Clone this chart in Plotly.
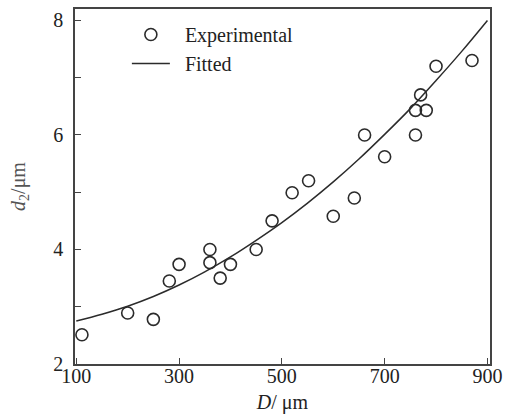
import plotly.graph_objects as go

exp_D = [111, 200, 250, 281, 300, 360, 360, 380, 400, 450, 481, 520, 552, 600, 641, 661, 700, 760, 760, 770, 781, 800, 870]
exp_d = [2.51, 2.89, 2.78, 3.45, 3.74, 4.00, 3.77, 3.50, 3.74, 4.00, 4.50, 4.99, 5.20, 4.58, 4.90, 6.00, 5.62, 6.00, 6.43, 6.70, 6.43, 7.20, 7.30]

# Fitted curve
fit_D = [100, 150, 200, 250, 300, 350, 400, 450, 500, 550, 600, 650, 700, 750, 800, 850, 900]
fit_d = [2.75, 2.87, 3.01, 3.18, 3.38, 3.61, 3.87, 4.16, 4.47, 4.81, 5.18, 5.58, 6.01, 6.46, 6.95, 7.46, 8.00]

x_ticks = [100, 300, 500, 700, 900]
y_ticks = [2, 4, 6, 8]

FONT = "Liberation Serif"
INK = "#2b2b2b"
PAD = "\u00a0\u00a0"

fig = go.Figure()
fig.add_trace(go.Scatter(
    x=exp_D, y=exp_d, mode="markers", name=PAD + "Experimental",
    marker=dict(symbol="circle-open", size=12, color=INK, line=dict(width=1.6, color=INK)),
))
fig.add_trace(go.Scatter(
    x=fit_D, y=fit_d, mode="lines", name=PAD + "Fitted",
    line=dict(color=INK, width=1.5, shape="spline"),
))

axis_common = dict(
    showline=True, linecolor="#444", linewidth=1.5, mirror=True,
    ticks="inside", ticklen=6, tickwidth=1.2, tickcolor="#444",
    showgrid=False, zeroline=False, automargin=False,
    tickfont=dict(family=FONT, size=20, color="#222"),
)

fig.update_layout(
    width=505, height=414,
    margin=dict(l=75, r=15, t=9, b=50),
    paper_bgcolor="white", plot_bgcolor="white",
    font=dict(family=FONT, size=20, color="#222"),
    showlegend=True,
    legend=dict(x=0.125, y=0.983, xanchor="left", yanchor="top",
                bgcolor="rgba(0,0,0,0)", font=dict(family=FONT, size=20, color="#222"),
                itemwidth=38, tracegroupgap=0),
    xaxis=dict(range=[97.5, 905], tickvals=x_ticks, ticktext=[str(v) for v in x_ticks],
               ticklabelstandoff=-7,
               title=dict(text="<i>D</i>/ μm", font=dict(family=FONT, size=20, color="#222"), standoff=10),
               **axis_common),
    yaxis=dict(range=[2, 8.2], tickvals=y_ticks, ticktext=[str(v) for v in y_ticks],
               ticklabelstandoff=6,
               minor=dict(ticks="inside", ticklen=6, tickwidth=1.2, tickcolor="#444", dtick=1, tick0=1),
               title=dict(text="<i>d</i><sub>2</sub>/μm", font=dict(family=FONT, size=20, color="#555"), standoff=22),
               **axis_common),
)

fig.write_html("out.html", config={"displayModeBar": False},
               post_script="document.body.style.margin='0';document.body.style.overflow='hidden';")
